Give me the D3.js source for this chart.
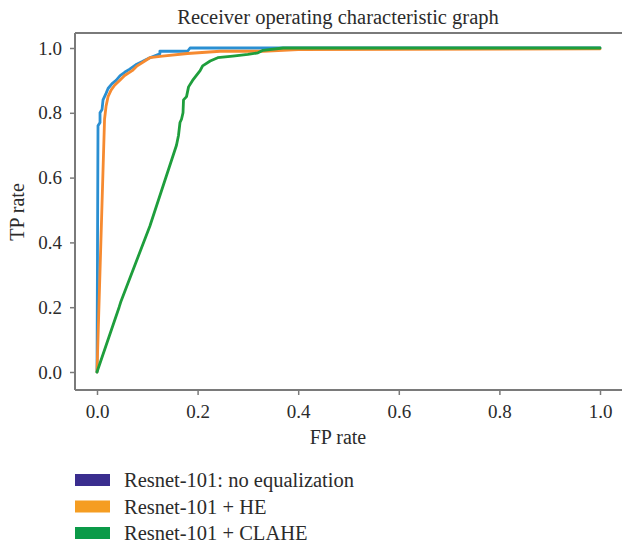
<!DOCTYPE html>
<html>
<head>
<meta charset="utf-8">
<script src="https://cdn.jsdelivr.net/npm/d3@7"></script>
<style>
  html, body { margin: 0; padding: 0; background: #fff; }
  svg { display: block; font-family: "Liberation Serif", "DejaVu Serif", serif; }
</style>
</head>
<body>
<svg id="chart" width="622" height="545"></svg>
<script>
// ROC curves: false positive rate vs true positive rate
const noEqFpr = [0, 0.002, 0.006, 0.006, 0.010, 0.012, 0.018, 0.022, 0.030, 0.038, 0.046, 0.055, 0.065, 0.079, 0.090, 0.105, 0.125, 0.125, 0.180, 0.185, 0.200, 1.0];
const noEqTpr = [0, 0.760, 0.770, 0.800, 0.810, 0.840, 0.860, 0.875, 0.890, 0.900, 0.915, 0.925, 0.935, 0.950, 0.958, 0.970, 0.982, 0.990, 0.990, 1.0, 1.0, 1.0];

const heFpr = [0, 0.015, 0.018, 0.022, 0.028, 0.035, 0.045, 0.055, 0.070, 0.080, 0.095, 0.105, 0.130, 0.180, 0.245, 0.330, 0.400, 1.0];
const heTpr = [0, 0.780, 0.820, 0.850, 0.870, 0.885, 0.900, 0.915, 0.930, 0.945, 0.960, 0.970, 0.975, 0.983, 0.990, 0.990, 0.995, 0.997];

const claheFpr = [0, 0.044, 0.047, 0.105, 0.158, 0.162, 0.165, 0.168, 0.171, 0.172, 0.178, 0.182, 0.190, 0.195, 0.205, 0.210, 0.225, 0.240, 0.270, 0.300, 0.320, 0.330, 0.370, 1.0];
const claheTpr = [0, 0.200, 0.215, 0.450, 0.700, 0.730, 0.770, 0.780, 0.800, 0.840, 0.850, 0.880, 0.900, 0.910, 0.930, 0.945, 0.960, 0.970, 0.975, 0.980, 0.985, 0.993, 1.0, 1.0];

const seriesNames = ["Resnet-101: no equalization", "Resnet-101 + HE", "Resnet-101 + CLAHE"];
const lineColors = ["#2a8fd2", "#f68a30", "#1e9e3c"];
const legendColors = ["#3a2d8e", "#f59d22", "#0b9a48"];

const xTicks = [0, 0.2, 0.4, 0.6, 0.8, 1.0];
const yTicks = [0, 0.2, 0.4, 0.6, 0.8, 1.0];

const svg = d3.select("#chart");
const textColor = "#2b2b2b";
const spineColor = "#7a7a7a";

const frame = { left: 75, top: 33, right: 622, bottom: 390 };
const x = d3.scaleLinear().domain([0, 1]).range([97, 600]);
const y = d3.scaleLinear().domain([0, 1]).range([372, 48]);

// Title
svg.append("text")
  .attr("x", 338).attr("y", 24)
  .attr("text-anchor", "middle")
  .attr("font-size", 20.5)
  .attr("fill", textColor)
  .text("Receiver operating characteristic graph");

// Curves
const series = [
  { fpr: noEqFpr, tpr: noEqTpr },
  { fpr: heFpr, tpr: heTpr },
  { fpr: claheFpr, tpr: claheTpr }
];
const line = d3.line().x(d => x(d[0])).y(d => y(d[1]));
const curves = svg.append("g").attr("class", "curves");
series.forEach((s, i) => {
  const pts = s.fpr.map((f, k) => [f, s.tpr[k]]);
  curves.append("path")
    .datum(pts)
    .attr("d", line)
    .attr("fill", "none")
    .attr("stroke", lineColors[i])
    .attr("stroke-width", 2.8)
    .attr("stroke-linejoin", "round")
    .attr("stroke-linecap", "round");
});

// Spines: left, top, bottom
const spines = svg.append("g").attr("stroke", spineColor).attr("stroke-width", 2);
spines.append("line").attr("x1", frame.left).attr("x2", frame.left).attr("y1", frame.top).attr("y2", frame.bottom);
spines.append("line").attr("x1", frame.left).attr("x2", frame.right).attr("y1", frame.top).attr("y2", frame.top);
spines.append("line").attr("x1", frame.left).attr("x2", frame.right).attr("y1", frame.bottom).attr("y2", frame.bottom);

// Axes
const xAxis = svg.append("g")
  .attr("transform", `translate(0,${frame.bottom})`)
  .call(d3.axisBottom(x).tickValues(xTicks).tickFormat(d3.format(".1f")).tickSize(5).tickPadding(10));
const yAxis = svg.append("g")
  .attr("transform", `translate(${frame.left},0)`)
  .call(d3.axisLeft(y).tickValues(yTicks).tickFormat(d3.format(".1f")).tickSize(5).tickPadding(8));
[xAxis, yAxis].forEach(a => {
  a.select(".domain").remove();
  a.selectAll(".tick line").attr("stroke", spineColor).attr("stroke-width", 1.5);
  a.selectAll(".tick text")
    .attr("fill", textColor)
    .attr("font-size", 19)
    .attr("font-family", "Liberation Serif, DejaVu Serif, serif");
});

// Axis labels
svg.append("text")
  .attr("x", 338).attr("y", 444)
  .attr("text-anchor", "middle")
  .attr("font-size", 20)
  .attr("fill", textColor)
  .text("FP rate");
svg.append("text")
  .attr("transform", "translate(24,212) rotate(-90)")
  .attr("text-anchor", "middle")
  .attr("font-size", 20)
  .attr("fill", textColor)
  .text("TP rate");

// Legend
const legend = svg.append("g").attr("transform", "translate(75,474)");
seriesNames.forEach((name, i) => {
  const g = legend.append("g").attr("transform", `translate(0,${i * 26.5})`);
  g.append("rect").attr("x", 0).attr("y", 0).attr("width", 35).attr("height", 12).attr("fill", legendColors[i]);
  g.append("text")
    .attr("x", 49).attr("y", 13)
    .attr("font-size", 20.5)
    .attr("fill", textColor)
    .text(name);
});
</script>
</body>
</html>
